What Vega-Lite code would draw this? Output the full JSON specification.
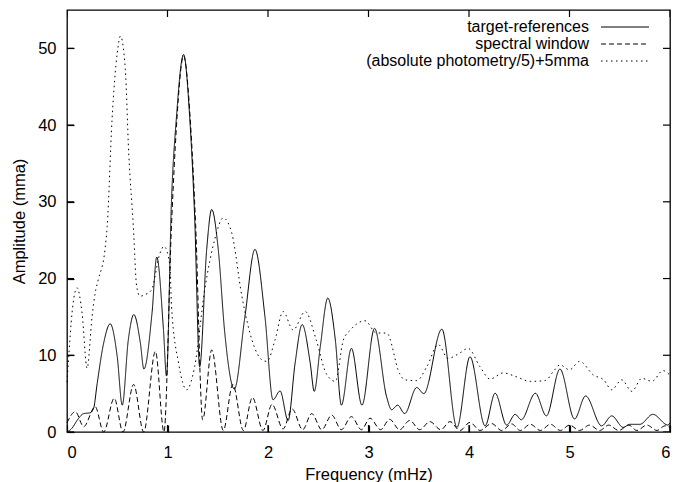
{
  "$schema": "https://vega.github.io/schema/vega-lite/v6.json",
  "width": 603,
  "height": 422,
  "autosize": {"type": "none"},
  "padding": {"left": 67, "top": 10, "right": 4, "bottom": 50},
  "background": "white",
  "config": {
    "view": {"stroke": "black", "strokeWidth": 1.3},
    "font": "Liberation Sans",
    "axis": {"grid": false, "labelColor": "black", "labelFontSize": 16.5, "titleFontSize": 16.5, "titleFontWeight": "normal", "titleColor": "black", "labelFont": "Liberation Sans", "titleFont": "Liberation Sans"}
  },
  "datasets": {
    "target": [
      {"f":0,"a":0},{"f":0.05,"a":0.5},{"f":0.1,"a":1.5},{"f":0.166,"a":2.4},{"f":0.23,"a":2.5},{"f":0.265,"a":3.1},{"f":0.3,"a":6.3},{"f":0.365,"a":11.6},{"f":0.43,"a":14.1},{"f":0.5,"a":9.8},{"f":0.55,"a":3.5},{"f":0.61,"a":12},{"f":0.665,"a":15.3},{"f":0.73,"a":11.6},{"f":0.765,"a":8.2},{"f":0.846,"a":15.5},{"f":0.893,"a":22.8},{"f":0.96,"a":13.3},{"f":0.99,"a":7.3},{"f":1.04,"a":30.3},{"f":1.09,"a":41.2},{"f":1.16,"a":49.2},{"f":1.22,"a":41.2},{"f":1.27,"a":28.1},{"f":1.32,"a":8.5},{"f":1.39,"a":23.8},{"f":1.44,"a":29},{"f":1.505,"a":23.8},{"f":1.57,"a":12.9},{"f":1.665,"a":5.6},{"f":1.77,"a":15},{"f":1.87,"a":23.8},{"f":1.97,"a":15},{"f":2.05,"a":4.2},{"f":2.12,"a":5.35},{"f":2.2,"a":1.5},{"f":2.27,"a":9},{"f":2.34,"a":14},{"f":2.42,"a":9},{"f":2.46,"a":5.3},{"f":2.52,"a":11.1},{"f":2.595,"a":17.45},{"f":2.67,"a":12},{"f":2.73,"a":3.5},{"f":2.83,"a":10.9},{"f":2.935,"a":3.5},{"f":3.06,"a":13.5},{"f":3.18,"a":4.6},{"f":3.23,"a":2.9},{"f":3.29,"a":3.5},{"f":3.36,"a":2.4},{"f":3.48,"a":5.8},{"f":3.55,"a":5.0},{"f":3.73,"a":13.4},{"f":3.88,"a":0.6},{"f":4.01,"a":9.8},{"f":4.16,"a":0.8},{"f":4.26,"a":5.05},{"f":4.375,"a":0.9},{"f":4.46,"a":2.3},{"f":4.52,"a":1.6},{"f":4.66,"a":5.05},{"f":4.77,"a":2.1},{"f":4.905,"a":8.2},{"f":5.05,"a":1.7},{"f":5.16,"a":4.7},{"f":5.32,"a":0.8},{"f":5.42,"a":2.1},{"f":5.535,"a":0.6},{"f":5.6,"a":1.0},{"f":5.7,"a":1.0},{"f":5.83,"a":2.3},{"f":5.98,"a":0.9},{"f":6.0,"a":1.2}
    ],
    "window": [
      {"f":0,"a":1.2},{"f":0.083,"a":2.65},{"f":0.166,"a":0.7},{"f":0.28,"a":3.3},{"f":0.365,"a":0},{"f":0.47,"a":4.4},{"f":0.557,"a":0},{"f":0.663,"a":6.2},{"f":0.763,"a":0},{"f":0.88,"a":10.5},{"f":0.965,"a":0},{"f":1.04,"a":27},{"f":1.09,"a":40},{"f":1.16,"a":49},{"f":1.23,"a":40},{"f":1.28,"a":27},{"f":1.35,"a":1.6},{"f":1.44,"a":10.7},{"f":1.555,"a":0.2},{"f":1.65,"a":6.2},{"f":1.755,"a":0.2},{"f":1.845,"a":4.5},{"f":1.95,"a":0.2},{"f":2.04,"a":3.6},{"f":2.15,"a":0.4},{"f":2.24,"a":3.0},{"f":2.345,"a":0.3},{"f":2.435,"a":2.4},{"f":2.535,"a":0.3},{"f":2.634,"a":2.2},{"f":2.73,"a":0.3},{"f":2.83,"a":2.0},{"f":2.93,"a":0.3},{"f":3.015,"a":1.8},{"f":3.12,"a":0.3},{"f":3.21,"a":1.65},{"f":3.31,"a":0.3},{"f":3.41,"a":1.5},{"f":3.51,"a":0.3},{"f":3.61,"a":1.35},{"f":3.72,"a":0.3},{"f":3.81,"a":1.35},{"f":3.91,"a":0.2},{"f":4.01,"a":1.25},{"f":4.11,"a":0.2},{"f":4.225,"a":1.1},{"f":4.325,"a":0.2},{"f":4.425,"a":1.05},{"f":4.51,"a":0.2},{"f":4.61,"a":1.0},{"f":4.71,"a":0.2},{"f":4.81,"a":1.0},{"f":4.91,"a":0.2},{"f":5.0,"a":0.9},{"f":5.1,"a":0.2},{"f":5.2,"a":0.9},{"f":5.3,"a":0.2},{"f":5.39,"a":0.9},{"f":5.49,"a":0.2},{"f":5.59,"a":0.9},{"f":5.67,"a":0.2},{"f":5.77,"a":0.9},{"f":5.87,"a":0.2},{"f":5.95,"a":0.8},{"f":6.0,"a":0.6}
    ],
    "phot": [
      {"f":0,"a":6.5},{"f":0.017,"a":9.8},{"f":0.05,"a":15.5},{"f":0.1,"a":18.8},{"f":0.15,"a":15.5},{"f":0.2,"a":8.3},{"f":0.25,"a":15.1},{"f":0.28,"a":18.1},{"f":0.31,"a":19.8},{"f":0.378,"a":23.8},{"f":0.4,"a":26.8},{"f":0.448,"a":40.7},{"f":0.5,"a":49.4},{"f":0.532,"a":51.6},{"f":0.58,"a":47.3},{"f":0.614,"a":36.4},{"f":0.66,"a":26.8},{"f":0.693,"a":19},{"f":0.726,"a":17.7},{"f":0.776,"a":17.9},{"f":0.84,"a":18.5},{"f":0.925,"a":23.3},{"f":0.965,"a":24.2},{"f":1.025,"a":21.6},{"f":1.04,"a":16.4},{"f":1.11,"a":9.0},{"f":1.19,"a":5.5},{"f":1.27,"a":8.5},{"f":1.37,"a":18.5},{"f":1.47,"a":25.1},{"f":1.555,"a":27.9},{"f":1.64,"a":25.9},{"f":1.74,"a":17.7},{"f":1.84,"a":12},{"f":1.94,"a":9.4},{"f":1.99,"a":9.2},{"f":2.07,"a":12},{"f":2.15,"a":15.7},{"f":2.25,"a":13.3},{"f":2.37,"a":15.7},{"f":2.48,"a":12},{"f":2.58,"a":7.6},{"f":2.67,"a":6.6},{"f":2.75,"a":12},{"f":2.82,"a":13.3},{"f":2.965,"a":14.5},{"f":3.08,"a":12.9},{"f":3.18,"a":12.9},{"f":3.31,"a":7.6},{"f":3.36,"a":6.8},{"f":3.48,"a":6.7},{"f":3.58,"a":8.5},{"f":3.695,"a":11.4},{"f":3.79,"a":9.6},{"f":3.91,"a":10.3},{"f":3.99,"a":10.9},{"f":4.11,"a":8.5},{"f":4.21,"a":6.9},{"f":4.34,"a":7.7},{"f":4.47,"a":7.2},{"f":4.61,"a":6.6},{"f":4.76,"a":6.7},{"f":4.84,"a":7.9},{"f":4.905,"a":8.75},{"f":5.0,"a":8.1},{"f":5.1,"a":9.2},{"f":5.24,"a":7.4},{"f":5.34,"a":6.8},{"f":5.42,"a":5.5},{"f":5.52,"a":6.8},{"f":5.62,"a":5.3},{"f":5.72,"a":7.0},{"f":5.82,"a":6.6},{"f":5.93,"a":8.0},{"f":6.0,"a":7.4}
    ],
    "xticks": [{"t":0},{"t":1},{"t":2},{"t":3},{"t":4},{"t":5},{"t":6}],
    "yticks": [{"v":0},{"v":10},{"v":20},{"v":30},{"v":40},{"v":50}]
  },
  "layer": [
    {
      "data": {"name": "target"},
      "transform": [{"calculate": "'target-references'", "as": "s"}],
      "mark": {"type": "line", "interpolate": "monotone", "strokeWidth": 1, "color": "black"},
      "encoding": {
        "x": {"field": "f", "type": "quantitative", "scale": {"domain": [0, 6], "nice": false}, "title": "Frequency (mHz)", "axis": {"orient": "bottom", "values": [0,1,2,3,4,5,6], "format": "d", "domain": false, "ticks": true, "tickSize": 7, "tickColor": "black", "tickWidth": 1.2, "offset": -7, "zindex": 1, "labelPadding": 12, "titlePadding": 6}},
        "y": {"field": "a", "type": "quantitative", "scale": {"domain": [0, 55], "nice": false}, "title": "Amplitude (mma)", "axis": {"orient": "left", "values": [0,10,20,30,40,50], "format": "d", "domain": false, "ticks": true, "tickSize": 7, "tickColor": "black", "tickWidth": 1.2, "offset": -7, "zindex": 1, "labelPadding": 11, "titlePadding": 10}},
        "strokeDash": {"field": "s", "type": "nominal", "scale": {"domain": ["target-references", "spectral window", "(absolute photometry/5)+5mma"], "range": [[1, 0], [5, 3], [1.5, 3.5]]},
          "legend": {"orient": "none", "legendX": 550, "legendY": 9, "title": null, "symbolType": "M-4.8,0H4.8", "symbolSize": 100, "symbolStrokeWidth": 1, "symbolStrokeColor": "black", "symbolFillColor": "transparent", "labelAlign": "right", "labelOffset": -44, "labelFontSize": 16, "labelColor": "black", "labelFont": "Liberation Sans", "labelLimit": 400, "rowPadding": 1, "padding": 0}}
      }
    },
    {
      "data": {"name": "window"},
      "transform": [{"calculate": "'spectral window'", "as": "s"}],
      "mark": {"type": "line", "interpolate": "monotone", "strokeWidth": 1, "color": "black"},
      "encoding": {
        "x": {"field": "f", "type": "quantitative", "axis": null},
        "y": {"field": "a", "type": "quantitative", "axis": null},
        "strokeDash": {"field": "s", "type": "nominal"}
      }
    },
    {
      "data": {"name": "phot"},
      "transform": [{"calculate": "'(absolute photometry/5)+5mma'", "as": "s"}],
      "mark": {"type": "line", "interpolate": "monotone", "strokeWidth": 1, "color": "black"},
      "encoding": {
        "x": {"field": "f", "type": "quantitative", "axis": null},
        "y": {"field": "a", "type": "quantitative", "axis": null},
        "strokeDash": {"field": "s", "type": "nominal"}
      }
    },
    {
      "data": {"name": "xticks"},
      "mark": {"type": "tick", "orient": "vertical", "size": 14, "thickness": 1.2, "color": "black", "opacity": 1, "clip": true},
      "encoding": {
        "x": {"field": "t", "type": "quantitative", "axis": null},
        "y": {"datum": 0, "axis": null}
      }
    },
    {
      "data": {"name": "xticks"},
      "mark": {"type": "tick", "orient": "vertical", "size": 14, "thickness": 1.2, "color": "black", "opacity": 1, "clip": true},
      "encoding": {
        "x": {"field": "t", "type": "quantitative", "axis": null},
        "y": {"datum": 55, "axis": null}
      }
    },
    {
      "data": {"name": "yticks"},
      "mark": {"type": "tick", "orient": "horizontal", "size": 14, "thickness": 1.2, "color": "black", "opacity": 1, "clip": true},
      "encoding": {
        "y": {"field": "v", "type": "quantitative", "axis": null},
        "x": {"datum": 0, "axis": null}
      }
    },
    {
      "data": {"name": "yticks"},
      "mark": {"type": "tick", "orient": "horizontal", "size": 14, "thickness": 1.2, "color": "black", "opacity": 1, "clip": true},
      "encoding": {
        "y": {"field": "v", "type": "quantitative", "axis": null},
        "x": {"datum": 6, "axis": null}
      }
    }
  ],
  "resolve": {"axis": {"x": "independent", "y": "independent"}}
}
